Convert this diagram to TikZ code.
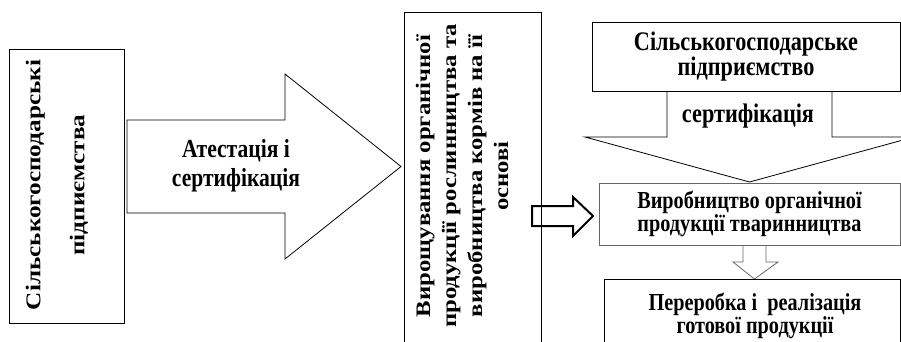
\documentclass[tikz,border=0pt]{standalone}
\usepackage{fontspec}
\setmainfont{Liberation Serif}
\newfontfamily\tallfont[FakeStretch=0.83]{Liberation Serif}
\newfontfamily\longfont[FakeStretch=1.2]{Liberation Serif}

\begin{document}
\begin{tikzpicture}[x=1pt,y=-1pt,
	box/.style={draw, line width=0.8pt, inner sep=0pt, align=center},
	greybox/.style={box, draw=black!60},
	farmfont/.style={font=\longfont\bfseries\fontsize{21}{44}\selectfont},
	cropfont/.style={font=\longfont\bfseries\fontsize{20.6}{26}\selectfont},
	headfont/.style={font=\tallfont\bfseries\fontsize{26.8}{25}\selectfont},
	smallfont/.style={font=\tallfont\bfseries\fontsize{24.4}{22}\selectfont}]

		\useasboundingbox (0,0) rectangle (901,342);

		% left part
		\node[box, minimum width=115pt, minimum height=274pt] (farms) at (66.5,186) {};
			\node[farmfont, rotate=90, align=center] (farmtext) at (57,185) {Сільськогосподарські\\підпиємства};
		\draw[line width=0.8pt] (127,120) -- (285,120) -- (285,74) -- (401,166.5) -- (285,259) -- (285,213) -- (127,213) -- cycle;
			\node[align=center, font=\tallfont\bfseries\fontsize{26}{29}\selectfont] (attest) at (236,166) {Атестація і\\сертифікація};

		% middle column
		\draw[line width=0.8pt] (404,360) -- (404,12) -- (541,12) -- (541,360);
			\node[cropfont, rotate=90, align=center] (crops) at (462,176) {Вирощування органічної\\продукції рослинництва та\\виробництва кормів на її\\основі};
		\draw[line width=2pt, line join=miter] (532,206) -- (573,206) -- (573,197) -- (593,216) -- (573,236) -- (573,226) -- (532,226) -- cycle;

		% right column
		\node[box, headfont, minimum width=308pt, minimum height=69pt] (firm) at (746,56.5) {Сільськогосподарське\\підприємство};
		\draw[line width=0.8pt] (667,91) -- (667,137) -- (585,137) -- (749.5,182) -- (914,137) -- (832,137) -- (832,91);
			\node[headfont] (cert) at (748,116) {сертифікація};
		\node[greybox, smallfont, minimum width=301pt, minimum height=62pt] (cattle) at (749.5,214) {Виробництво органічної\\продукції тваринництва};
		\draw[black!60, line width=0.8pt] (743,245) -- (743,262) -- (733,262) -- (754.5,279) -- (778,262) -- (766,262) -- (766,245);
		\draw[line width=0.8pt] (604,360) -- (604,279) -- (900,279) -- (900,360);
			\node[smallfont, align=center] (sale) at (755,316) {Переробка і \ реалізація\\готової продукції};

\end{tikzpicture}
\end{document}
